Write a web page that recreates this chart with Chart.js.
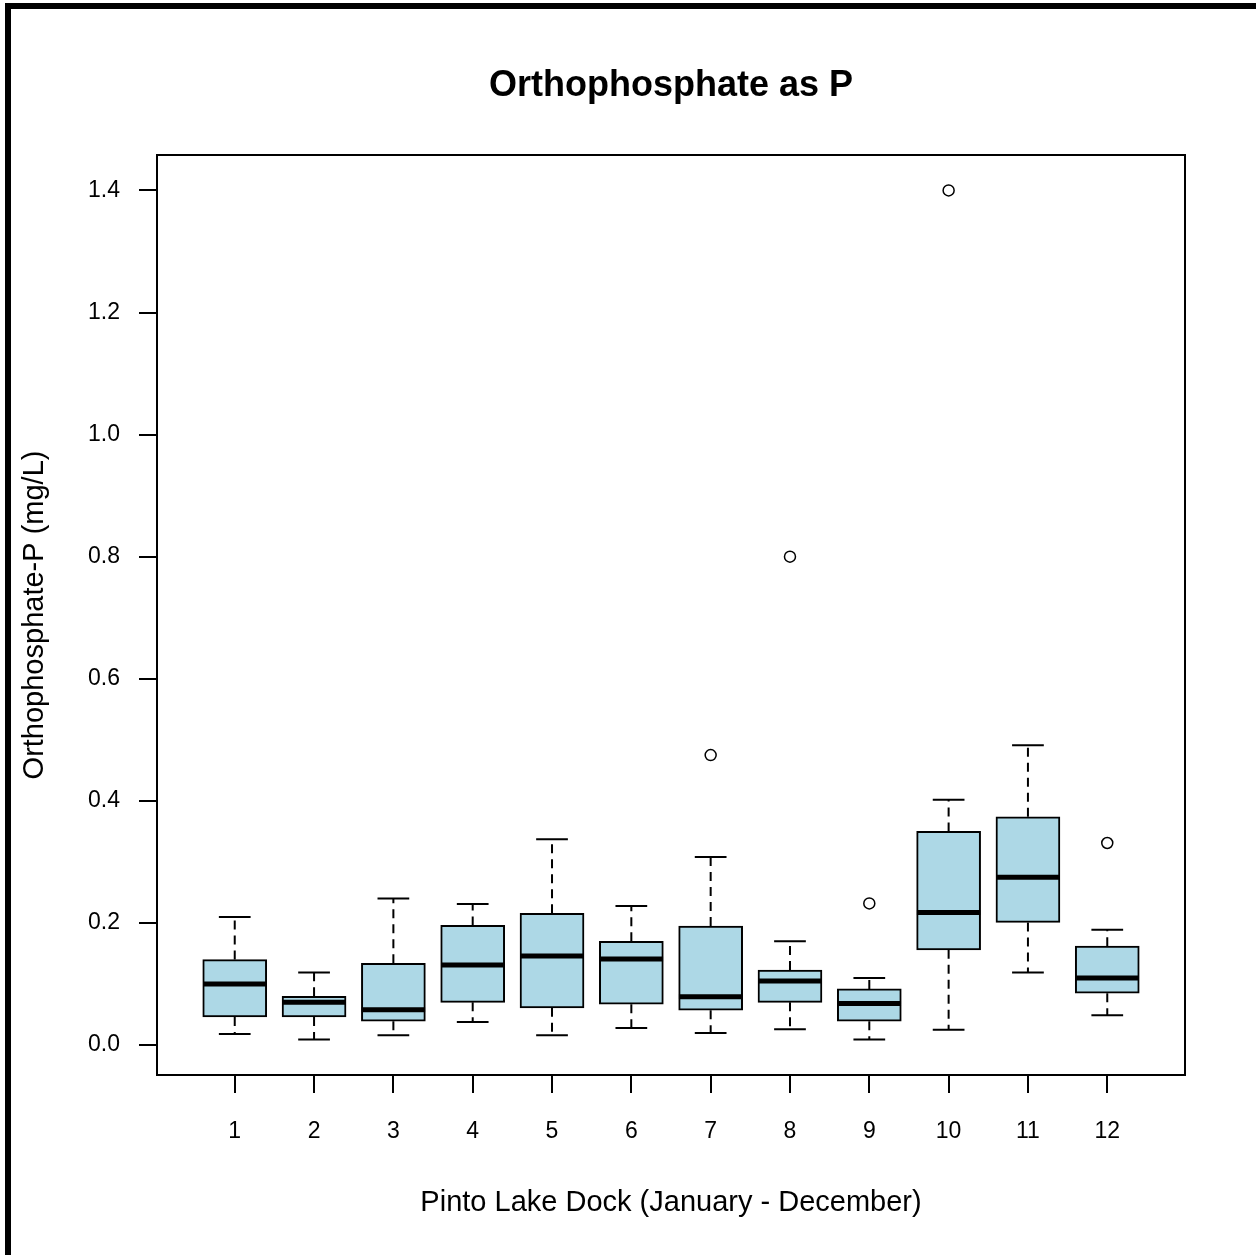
<!DOCTYPE html>
<html>
<head>
<meta charset="utf-8">
<script src="https://cdn.jsdelivr.net/npm/chart.js@4.4.1/dist/chart.umd.min.js"></script>
<style>
html,body{margin:0;padding:0;background:#fff;}
#wrap{position:relative;width:1256px;height:1255px;overflow:hidden;background:#fff;}
#c{position:absolute;left:0;top:0;}
.bl{position:absolute;left:5px;top:3px;width:6px;height:1252px;background:#000;}
.bt{position:absolute;left:5px;top:3px;width:1251px;height:6px;background:#000;}
</style>
</head>
<body>
<div id="wrap">
<canvas id="c" width="1256" height="1255"></canvas>
<div class="bl"></div><div class="bt"></div>
</div>
<script>
// ---- Data ----
const months = [1, 2, 3, 4, 5, 6, 7, 8, 9, 10, 11, 12];
const monthLabels = ['1','2','3','4','5','6','7','8','9','10','11','12'];
const lowerWhisker = [0.018, 0.009, 0.016, 0.038, 0.016, 0.028, 0.020, 0.026, 0.009, 0.025, 0.119, 0.049];
const q1           = [0.046, 0.046, 0.039, 0.070, 0.061, 0.067, 0.057, 0.070, 0.039, 0.156, 0.201, 0.085];
const medians      = [0.100, 0.070, 0.058, 0.131, 0.146, 0.141, 0.079, 0.105, 0.068, 0.217, 0.275, 0.110];
const q3           = [0.140, 0.080, 0.134, 0.196, 0.216, 0.170, 0.195, 0.123, 0.092, 0.350, 0.374, 0.162];
const upperWhisker = [0.210, 0.119, 0.240, 0.231, 0.337, 0.228, 0.308, 0.170, 0.110, 0.402, 0.491, 0.189];
const outlierMonth = [7, 8, 9, 10, 12];
const outlierValue = [0.475, 0.800, 0.232, 1.400, 0.331];
const yTicks = [0, 0.2, 0.4, 0.6, 0.8, 1.0, 1.2, 1.4];

const titleText = 'Orthophosphate as P';
const xTitle = 'Pinto Lake Dock (January - December)';
const yTitle = 'Orthophosphate-P (mg/L)';

// ---- Build datasets from arrays ----
const FONT = "'Liberation Sans', Arial, sans-serif";
const boxData = months.map((m, i) => ({x: m, y: [q1[i], q3[i]]}));
const whiskerData = [];
const capData = [];
const medianData = [];
months.forEach((m, i) => {
  whiskerData.push({x: m, y: q3[i]}, {x: m, y: upperWhisker[i]}, {x: m, y: null});
  whiskerData.push({x: m, y: q1[i]}, {x: m, y: lowerWhisker[i]}, {x: m, y: null});
  capData.push({x: m - 0.2, y: upperWhisker[i]}, {x: m + 0.2, y: upperWhisker[i]}, {x: m, y: null});
  capData.push({x: m - 0.2, y: lowerWhisker[i]}, {x: m + 0.2, y: lowerWhisker[i]}, {x: m, y: null});
  medianData.push({x: m - 0.4, y: medians[i]}, {x: m + 0.4, y: medians[i]}, {x: m, y: null});
});
const outlierData = outlierMonth.map((m, i) => ({x: m, y: outlierValue[i]}));

const framePlugin = {
  id: 'frame',
  afterDatasetsDraw(chart) {
    const {ctx, chartArea: a} = chart;
    ctx.save();
    ctx.strokeStyle = '#000';
    ctx.lineWidth = 2;
    ctx.strokeRect(a.left, a.top, a.right - a.left, a.bottom - a.top);
    ctx.restore();
  }
};

new Chart(document.getElementById('c'), {
  type: 'bar',
  data: {
    datasets: [
      { type: 'line', label: 'outliers', data: outlierData, showLine: false,
        pointRadius: 5.5, pointStyle: 'circle', pointBackgroundColor: '#fff',
        pointBorderColor: '#000', pointBorderWidth: 1.5, order: 1 },
      { type: 'line', label: 'median', data: medianData, borderColor: '#000',
        borderWidth: 5, borderCapStyle: 'butt', pointRadius: 0, spanGaps: false, order: 2 },
      { type: 'line', label: 'caps', data: capData, borderColor: '#000',
        borderWidth: 2, borderCapStyle: 'butt', pointRadius: 0, spanGaps: false, order: 3 },
      { type: 'bar', label: 'box', data: boxData, backgroundColor: '#add8e6',
        borderColor: '#000', borderWidth: 2, borderSkipped: false, barThickness: 64, order: 4 },
      { type: 'line', label: 'whiskers', data: whiskerData, borderColor: '#000',
        borderWidth: 2, borderDash: [9, 6], borderCapStyle: 'butt', pointRadius: 0, spanGaps: false, order: 5 }
    ]
  },
  options: {
    responsive: false,
    devicePixelRatio: 1,
    animation: false,
    layout: { padding: { left: 0, right: 71, top: 0, bottom: 0 } },
    plugins: {
      legend: { display: false },
      tooltip: { enabled: false },
      title: {
        display: true, text: titleText, fullSize: false, color: '#000',
        font: { family: FONT, size: 36, weight: 'bold', lineHeight: 1.2 },
        padding: { top: 64, bottom: 47.8 }
      }
    },
    scales: {
      x: {
        type: 'linear', min: 0.02, max: 12.98, offset: false,
        afterFit(s) { s.height = 180; },
        afterBuildTicks(s) { s.ticks = months.map(v => ({value: v})); },
        grid: { offset: false, drawOnChartArea: false, drawTicks: true, tickLength: 18, color: '#000', tickColor: '#000', lineWidth: 2 },
        border: { display: false },
        ticks: {
          color: '#000', font: { family: FONT, size: 23 }, padding: 25, maxRotation: 0, autoSkip: false,
          callback: (v) => monthLabels[months.indexOf(v)] ?? ''
        },
        title: { display: true, text: xTitle, color: '#000', font: { family: FONT, size: 29, lineHeight: 1.2 },
                 padding: { top: 0, bottom: 34.6 } }
      },
      y: {
        type: 'linear', min: -0.049, max: 1.458,
        afterFit(s) { s.width = 157; },
        afterBuildTicks(s) { s.ticks = yTicks.map(v => ({value: v})); },
        grid: { drawOnChartArea: false, drawTicks: true, tickLength: 18, color: '#000', tickColor: '#000', lineWidth: 2 },
        border: { display: false },
        ticks: {
          color: '#000', font: { family: FONT, size: 23 }, padding: 19,
          callback: (v) => Number(v).toFixed(1)
        },
        title: { display: true, text: yTitle, color: '#000', font: { family: FONT, size: 29, lineHeight: 1.2 },
                 padding: { top: 17.6, bottom: 0 } }
      }
    }
  },
  plugins: [framePlugin]
});
</script>
</body>
</html>
